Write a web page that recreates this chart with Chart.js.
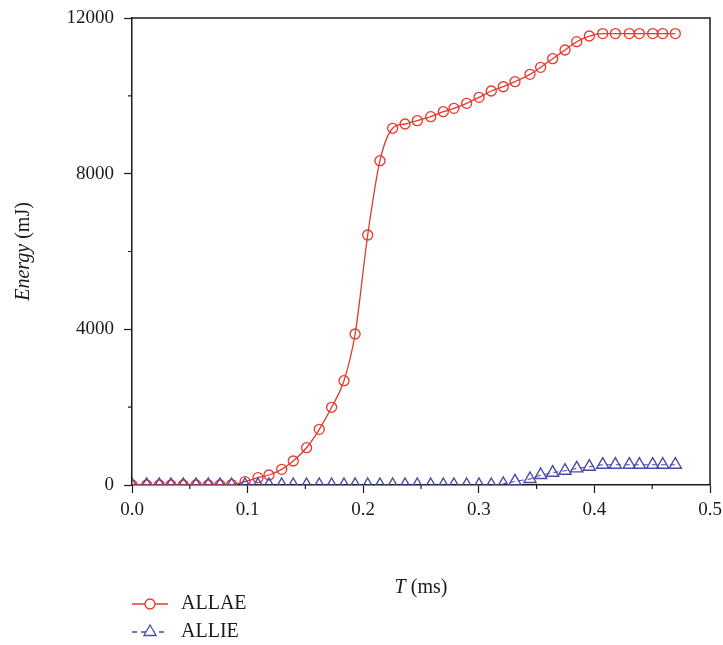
<!DOCTYPE html>
<html>
<head>
<meta charset="utf-8">
<script src="https://cdn.jsdelivr.net/npm/chart.js@4.4.1/dist/chart.umd.min.js"></script>
<style>
  html, body { margin: 0; padding: 0; background: #fff; }
  #wrap { width: 723px; height: 645px; }
</style>
</head>
<body>
<div id="wrap"><canvas id="myChart" width="723" height="645"></canvas></div>
<script>
// time steps (ms)
const timeMs = [0, 0.0127, 0.0236, 0.0337, 0.0444, 0.0554, 0.066, 0.0761, 0.0862, 0.0978,
    0.109, 0.1185, 0.1295, 0.1395, 0.151, 0.162, 0.1727, 0.1834, 0.193, 0.2039,
    0.2145, 0.2255, 0.2362, 0.2468, 0.2584, 0.2693, 0.2785, 0.2895, 0.3002, 0.3108,
    0.3212, 0.3313, 0.3443, 0.3535, 0.3639, 0.3746, 0.3847, 0.3956, 0.4072, 0.4181,
    0.4302, 0.4389, 0.4504, 0.4591, 0.47];

// ALLAE energy (mJ)
const allae = [0, 0, 0, 0, 0, 0, 0, 0, 10, 85,
    188, 257, 403, 617, 958, 1431, 1997, 2680, 3880, 6424,
    8333, 9166, 9276, 9361, 9464, 9592, 9679, 9808, 9962, 10124,
    10234, 10363, 10553, 10733, 10954, 11178, 11391, 11537, 11600, 11600,
    11600, 11600, 11600, 11600, 11600];

// ALLIE energy (mJ)
const allie = [0, 0, 0, 0, 0, 0, 0, 0, 0, 0,
    0, 0, 0, 0, 0, 0, 0, 0, 0, 0,
    0, 0, 0, 0, 0, 0, 0, 0, 0, 0,
    26, 93, 154, 257, 316, 368, 427, 470, 522, 522,
    522, 522, 522, 522, 522];

const xTicks = [0, 0.1, 0.2, 0.3, 0.4, 0.5];
const yTicks = [0, 4000, 8000, 12000];
const seriesNames = ['ALLAE', 'ALLIE'];

const RED = '#e4392c';
const BLUE = '#4a4aa9';
const SERIF = '"Liberation Serif", "DejaVu Serif", serif';

function toPoints(ys) {
    return timeMs.map((t, i) => ({ x: t, y: ys[i] }));
}

// draw one title made of plain and italic pieces, centred on (x, y)
function drawMixed(ctx, parts, x, y, size) {
    let total = 0;
    parts.forEach(p => {
        ctx.font = (p.italic ? 'italic ' : '') + size + 'px ' + SERIF;
        p.w = ctx.measureText(p.text).width;
        total += p.w;
    });
    let cx = x - total / 2;
    ctx.textAlign = 'left';
    ctx.textBaseline = 'middle';
    parts.forEach(p => {
        ctx.font = (p.italic ? 'italic ' : '') + size + 'px ' + SERIF;
        ctx.fillText(p.text, cx, y);
        cx += p.w;
    });
}

const extras = {
    id: 'extras',
    afterDraw(chart) {
        const ctx = chart.ctx;
        const a = chart.chartArea;
        const xs = chart.scales.x;
        const ys = chart.scales.y;
        ctx.save();
        ctx.strokeStyle = '#1a1a1a';
        ctx.lineWidth = 1.5;
        // top and right frame
        ctx.beginPath();
        ctx.moveTo(a.left, a.top);
        ctx.lineTo(a.right, a.top);
        ctx.lineTo(a.right, a.bottom);
        ctx.stroke();

        // minor ticks
        ctx.lineWidth = 1.2;
        ctx.beginPath();
        for (let v = 2000; v < 12000; v += 4000) {
            const py = ys.getPixelForValue(v);
            ctx.moveTo(a.left - 4, py);
            ctx.lineTo(a.left, py);
        }
        for (let v = 0.05; v < 0.5; v += 0.1) {
            const px = xs.getPixelForValue(v);
            ctx.moveTo(px, a.bottom);
            ctx.lineTo(px, a.bottom + 4);
        }
        ctx.stroke();

        // axis titles
        ctx.fillStyle = '#1a1a1a';
        drawMixed(ctx, [{ text: 'T', italic: true }, { text: ' (ms)' }], (a.left + a.right) / 2, 588, 20);
        ctx.save();
        ctx.translate(24, (a.top + a.bottom) / 2);
        ctx.rotate(-Math.PI / 2);
        drawMixed(ctx, [{ text: 'Energy', italic: true }, { text: ' (mJ)' }], 0, 0, 20);
        ctx.restore();

        // legend, one entry per line
        const rows = [
            { ds: chart.data.datasets[0], y: 604 },
            { ds: chart.data.datasets[1], y: 632 }
        ];
        rows.forEach(r => {
            ctx.strokeStyle = r.ds.borderColor;
            ctx.lineWidth = 1.3;
            ctx.setLineDash(r.ds.borderDash || []);
            ctx.beginPath();
            ctx.moveTo(132, r.y);
            ctx.lineTo(168, r.y);
            ctx.stroke();
            ctx.setLineDash([]);
            ctx.fillStyle = '#fff';
            Chart.helpers.drawPoint(ctx, {
                pointStyle: r.ds.pointStyle,
                radius: r.ds.pointRadius,
                rotation: 0,
                borderWidth: r.ds.pointBorderWidth
            }, 150, r.y);
            ctx.fillStyle = '#1a1a1a';
            ctx.font = '20px ' + SERIF;
            ctx.textAlign = 'left';
            ctx.textBaseline = 'middle';
            ctx.fillText(r.ds.label, 181, r.y);
        });
        ctx.restore();
    }
};

const ctx = document.getElementById('myChart').getContext('2d');
const myChart = new Chart(ctx, {
    type: 'line',
    data: {
        datasets: [{
            label: seriesNames[0],
            data: toPoints(allae),
            borderColor: RED,
            backgroundColor: 'rgba(0,0,0,0)',
            borderWidth: 1.3,
            pointStyle: 'circle',
            pointRadius: 5,
            pointBorderWidth: 1.3,
            pointBorderColor: RED,
            pointBackgroundColor: 'rgba(0,0,0,0)',
            cubicInterpolationMode: 'monotone',
            order: 2
        }, {
            label: seriesNames[1],
            data: toPoints(allie),
            borderColor: BLUE,
            backgroundColor: 'rgba(0,0,0,0)',
            borderWidth: 1.1,
            borderDash: [5, 4],
            pointStyle: 'triangle',
            pointRadius: 7,
            pointBorderWidth: 1.4,
            pointBorderColor: BLUE,
            pointBackgroundColor: 'rgba(0,0,0,0)',
            order: 1
        }]
    },
    options: {
        responsive: false,
        animation: false,
        layout: { padding: { top: 18, right: 13, left: 0, bottom: 0 } },
        scales: {
            x: {
                type: 'linear',
                min: 0,
                max: 0.5,
                afterFit: (s) => { s.height = 160; s.paddingLeft = 0; s.paddingRight = 0; },
                afterBuildTicks: (s) => { s.ticks = xTicks.map(v => ({ value: v })); },
                ticks: {
                    color: '#1a1a1a',
                    font: { family: SERIF, size: 19 },
                    padding: 6,
                    maxRotation: 0,
                    callback: (v) => v.toFixed(1)
                },
                grid: { drawOnChartArea: false, drawTicks: true, tickLength: 8, tickColor: '#1a1a1a', tickWidth: 1.2 },
                border: { color: '#1a1a1a', width: 1.5 }
            },
            y: {
                type: 'linear',
                min: 0,
                max: 12000,
                afterFit: (s) => { s.width = 132; s.paddingTop = 0; s.paddingBottom = 0; },
                afterBuildTicks: (s) => { s.ticks = yTicks.map(v => ({ value: v })); },
                ticks: {
                    color: '#1a1a1a',
                    font: { family: SERIF, size: 19 },
                    padding: 10,
                    callback: (v) => String(v)
                },
                grid: { drawOnChartArea: false, drawTicks: true, tickLength: 8, tickColor: '#1a1a1a', tickWidth: 1.2 },
                border: { color: '#1a1a1a', width: 1.5 }
            }
        },
        plugins: {
            legend: { display: false },
            tooltip: { enabled: false }
        }
    },
    plugins: [extras]
});
</script>
</body>
</html>
